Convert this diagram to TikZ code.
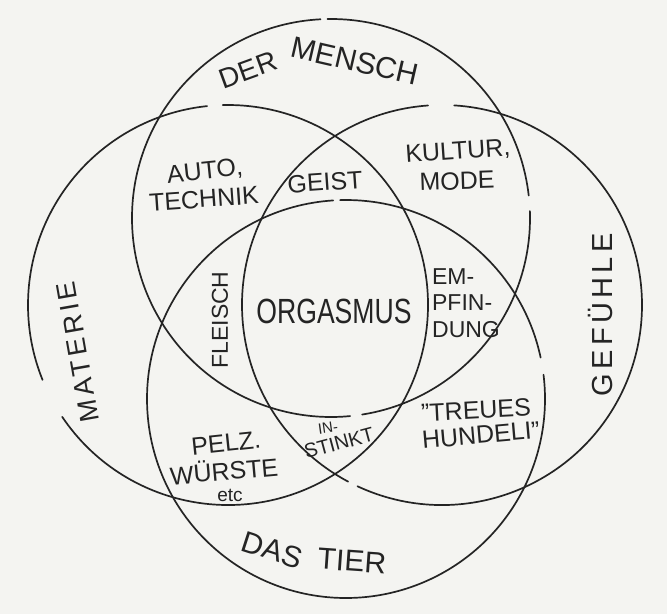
\documentclass[tikz,border=0pt]{standalone}
\usepackage{fontspec}
\setmainfont{Liberation Sans}
\newfontfamily\handwide[LetterSpace=15]{Liberation Sans}
\newfontfamily\handnarrow[FakeStretch=0.76]{Liberation Sans}
\usetikzlibrary{calc}
\definecolor{paper}{HTML}{F4F4F1}
\definecolor{pencil}{HTML}{242424}
\tikzset{
  ring/.style={draw=pencil,line width=1.7pt,line cap=round},
  word/.style={text=pencil,inner sep=0pt,font=\fontsize{25}{27}\selectfont},
  smallword/.style={word,font=\fontsize{15}{16}\selectfont},
  bigword/.style={word,font=\fontsize{30}{32}\selectfont},
  sideword/.style={word,font=\handwide\fontsize{27}{29}\selectfont},
  centreword/.style={word,font=\handnarrow\fontsize{35}{37}\selectfont}
}

\begin{document}
\begin{tikzpicture}[x=1pt,y=1pt]
  \fill[paper] (0,0) rectangle (667,-614);
  \useasboundingbox (0,0) rectangle (667,-614);
  \coordinate (mensch) at (331,-218);
  \coordinate (materie) at (228,-305);
  \coordinate (gefuehle) at (442,-305);
  \coordinate (tier) at (346,-399);
  % the four rings, with the breaks of the pen
  \draw[ring] ($(mensch)+(6.5:199)$) arc[start angle=6.5,end angle=91,radius=199];
  \draw[ring] ($(mensch)+(93:199)$) arc[start angle=93,end angle=275.5,radius=199];
  \draw[ring] ($(mensch)+(279:199)$) arc[start angle=279,end angle=362,radius=199];
  \draw[ring] ($(materie)+(96:200)$) arc[start angle=96,end angle=202,radius=200];
  \draw[ring] ($(materie)+(214:200)$) arc[start angle=214,end angle=451.5,radius=200];
  \draw[ring] ($(gefuehle)+(94:200)$) arc[start angle=94,end angle=242,radius=200];
  \draw[ring] ($(gefuehle)+(245:200)$) arc[start angle=245,end angle=446.5,radius=200];
  \draw[ring] ($(tier)+(12:199)$) arc[start angle=12,end angle=91.7,radius=199];
  \draw[ring] ($(tier)+(93.7:199)$) arc[start angle=93.7,end angle=367,radius=199];
  % outer names
  \node[word,font=\fontsize{28}{30}\selectfont,rotate=20] (derlbl) at (248,-70) {DER};
  \node[bigword,rotate=-13] (menschlbl) at (355,-61) {MENSCH};
  \node[sideword,rotate=100] (materielbl) at (78,-352) {MATERIE};
  \node[sideword,font=\handwide\fontsize{29}{31}\selectfont,rotate=90] (gefuehlelbl) at (601,-315) {GEFÜHLE};
  \node[bigword,rotate=-18] (daslbl) at (272,-550) {DAS};
  \node[bigword,rotate=-4] (tierlbl) at (352,-561) {TIER};
  % overlaps
  \node[word,rotate=6] (auto) at (205,-172) {AUTO,};
  \node[word,rotate=4] (technik) at (204,-199) {TECHNIK};
  \node[word,rotate=4] (geist) at (325,-182) {GEIST};
  \node[word,rotate=4] (kultur) at (458,-152) {KULTUR,};
  \node[word,rotate=2] (mode) at (457,-181) {MODE};
  \node[word,font=\fontsize{23}{25}\selectfont,rotate=90] (fleisch) at (220,-320) {FLEISCH};
  \node[centreword] (orgasmus) at (334,-311) {ORGASMUS};
  \node[word,font=\fontsize{23}{26.5}\selectfont,align=left] (empfindung) at (466,-303) {EM-\\PFIN-\\DUNG};
  \node[word,rotate=3] (treues) at (476,-410) {"TREUES};
  \node[word,rotate=5] (hundeli) at (481,-435) {HUNDELI"};
  \node[word,rotate=6] (pelz) at (226,-443) {PELZ.};
  \node[word,rotate=5] (wuerste) at (224,-470) {WÜRSTE};
  \node[word,font=\fontsize{19}{21}\selectfont] (etc) at (230,-495) {etc};
  \node[smallword,rotate=8] (instinkta) at (328,-428) {IN-};
  \node[word,font=\fontsize{20}{22}\selectfont,rotate=15] (instinktb) at (339,-443) {STINKT};
\end{tikzpicture}
\end{document}
